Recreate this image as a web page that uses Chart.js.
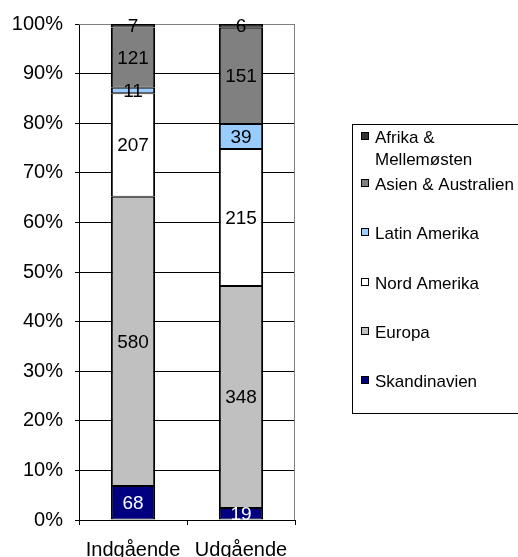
<!DOCTYPE html>
<html>
<head>
<meta charset="utf-8">
<script src="https://cdn.jsdelivr.net/npm/chart.js@4/dist/chart.umd.min.js"></script>
<style>
	body { margin: 0; background: #fff; }
	#wrap { width: 518px; height: 557px; }
</style>
</head>
<body>
<div id="wrap"><canvas id="chart" width="518" height="557"></canvas></div>
<script>
const categories = ['Indgående', 'Udgående'];
const seriesNames = ['Skandinavien', 'Europa', 'Nord Amerika', 'Latin Amerika', 'Asien & Australien', 'Afrika & Mellemøsten'];
const skandinavien = [68, 19];
const europa = [580, 348];
const nordAmerika = [207, 215];
const latinAmerika = [11, 39];
const asienAustralien = [121, 151];
const afrikaMellemoesten = [7, 6];

const seriesValues = [skandinavien, europa, nordAmerika, latinAmerika, asienAustralien, afrikaMellemoesten];
const seriesColors = ['#000080', '#c0c0c0', '#ffffff', '#99ccff', '#808080', '#333333'];
const labelColors = ['#ffffff', '#000', '#000', '#000', '#000', '#000'];

const FONT = '"Liberation Sans", Arial, sans-serif';

// 100% stack: every value as share of its column total
const totals = categories.map((c, i) => seriesValues.reduce((s, arr) => s + arr[i], 0));

const datasets = seriesNames.map((name, k) => ({
	label: name,
	data: seriesValues[k].map((v, i) => v / totals[i] * 100),
	raw: seriesValues[k],
	labelColor: labelColors[k],
	backgroundColor: seriesColors[k],
	borderColor: '#000',
	borderWidth: {top: 1, bottom: 1, left: 2, right: 2},
	borderSkipped: false,
	barPercentage: 0.41,
	categoryPercentage: 1
}));

const valueLabels = {
	id: 'valueLabels',
	afterDatasetsDraw(chart) {
		const ctx = chart.ctx;
		ctx.save();
		ctx.font = '19px ' + FONT;
		ctx.textAlign = 'center';
		ctx.textBaseline = 'middle';
		chart.data.datasets.forEach((ds, k) => {
			chart.getDatasetMeta(k).data.forEach((bar, i) => {
				const p = bar.getProps(['x', 'y', 'base'], true);
				ctx.fillStyle = ds.labelColor;
				ctx.fillText(String(ds.raw[i]), p.x, (p.y + p.base) / 2 + 1);
			});
		});
		ctx.restore();
	}
};

const plotFrame = {
	id: 'plotFrame',
	beforeDatasetsDraw(chart) {
		const {ctx, chartArea: a} = chart;
		ctx.save();
		ctx.strokeStyle = '#808080';
		ctx.lineWidth = 1;
		ctx.beginPath();
		ctx.moveTo(a.left, a.top + 0.5);
		ctx.lineTo(a.right - 0.5, a.top + 0.5);
		ctx.lineTo(a.right - 0.5, a.bottom);
		ctx.stroke();
		ctx.restore();
	}
};

const boxLegend = {
	id: 'boxLegend',
	afterDraw(chart) {
		const ctx = chart.ctx;
		const left = 352, top = 124, bottom = 413;
		ctx.save();
		ctx.strokeStyle = '#000';
		ctx.lineWidth = 1;
		ctx.strokeRect(left + 0.5, top + 0.5, 200, bottom - top);
		ctx.font = '17px ' + FONT;
		ctx.textBaseline = 'alphabetic';
		ctx.textAlign = 'left';
		const items = chart.data.datasets.slice().reverse();
		let baseline = 143;
		items.forEach((ds, n) => {
			// simple word wrap
			const words = ds.label.split(' ');
			const lines = [];
			let line = '';
			words.forEach(w => {
				const t = line ? line + ' ' + w : w;
				if (line && ctx.measureText(t).width > 150) { lines.push(line); line = w; }
				else line = t;
			});
			lines.push(line);
			if (n > 0) baseline = 190 + (n - 1) * 49.25;
			ctx.fillStyle = ds.backgroundColor;
			ctx.fillRect(361, Math.round(baseline - 11), 8, 8);
			ctx.strokeStyle = '#000';
			ctx.strokeRect(361.5, Math.round(baseline - 11) + 0.5, 7, 7);
			ctx.fillStyle = '#000';
			lines.forEach((l, j) => ctx.fillText(l, 375, baseline + j * 22));
		});
		ctx.restore();
	}
};

new Chart(document.getElementById('chart'), {
	type: 'bar',
	data: { labels: categories, datasets: datasets },
	options: {
		responsive: false,
		animation: false,
		devicePixelRatio: 1,
		layout: { padding: { top: 23, right: 223, bottom: 0, left: 0 } },
		plugins: {
			legend: { display: false },
			tooltip: { enabled: false }
		},
		scales: {
			x: {
				stacked: true,
				afterFit: (s) => { s.height = 37; },
				grid: { drawOnChartArea: false, drawTicks: true, tickLength: 5, tickColor: '#000', offset: true },
				border: { color: '#000', width: 1 },
				ticks: { color: '#000', font: { size: 20, family: FONT }, padding: 13, maxRotation: 0 }
			},
			y: {
				stacked: true,
				min: 0,
				max: 100,
				afterFit: (s) => { s.width = 79; },
				grid: {
					color: (c) => c.tick && c.tick.value === 100 ? '#808080' : '#000',
					tickColor: '#000',
					tickLength: 4
				},
				border: { color: '#000', width: 1 },
				ticks: {
					stepSize: 10,
					color: '#000',
					padding: 12,
					font: { size: 20, family: FONT },
					callback: (v) => v + '%'
				}
			}
		}
	},
	plugins: [plotFrame, valueLabels, boxLegend]
});
</script>
</body>
</html>
